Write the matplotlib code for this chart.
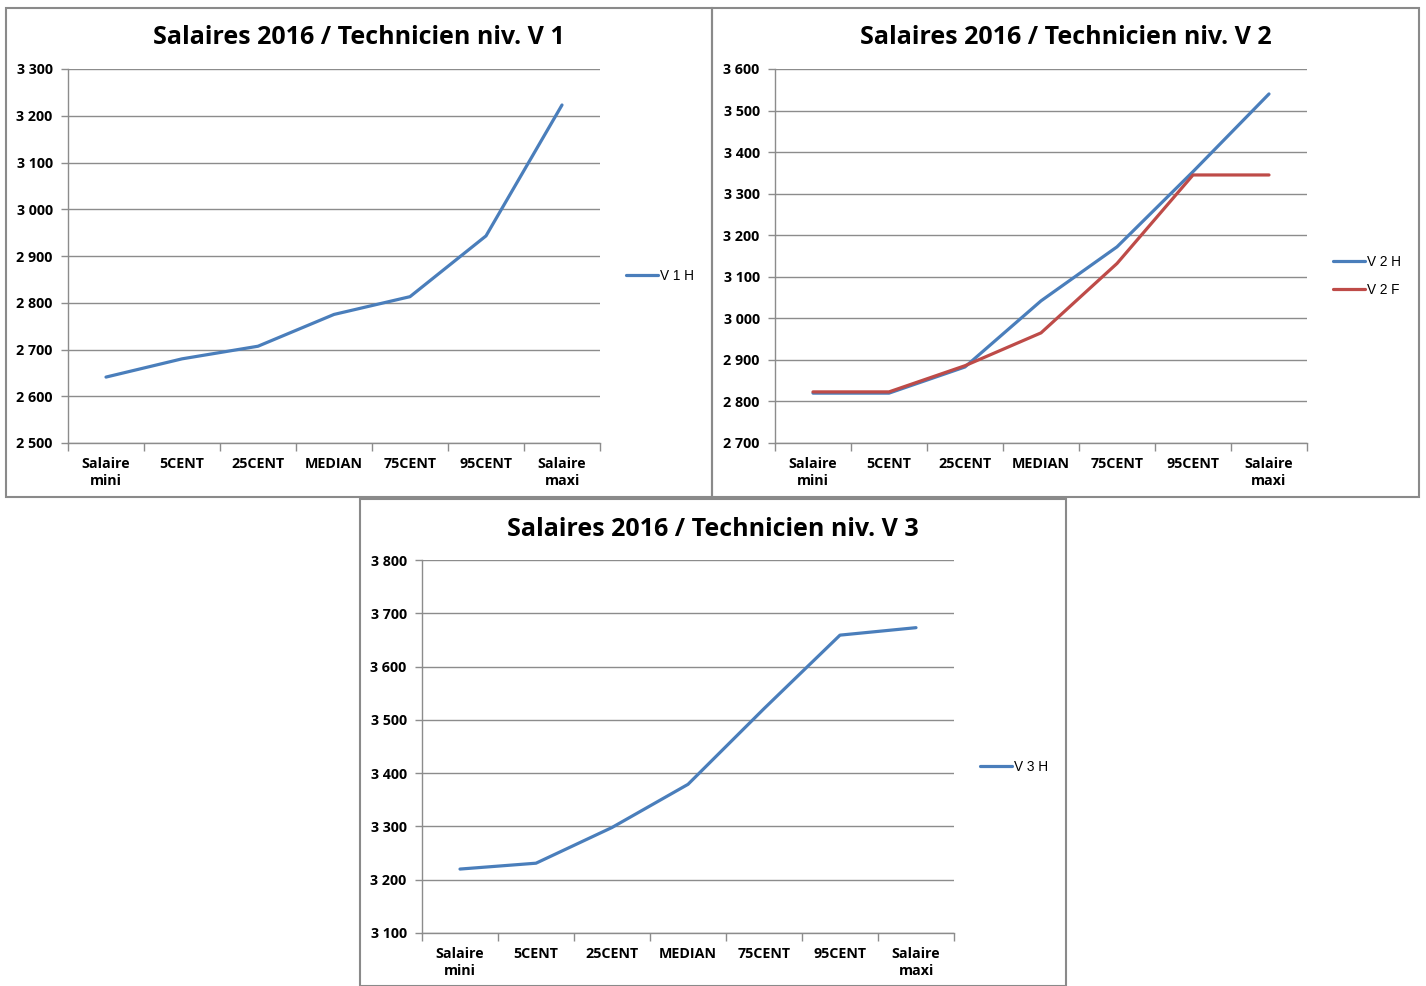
import matplotlib
matplotlib.use("Agg")
import matplotlib.pyplot as plt
from matplotlib.patches import Rectangle
import numpy as np

categories = ["Salaire\nmini", "5CENT", "25CENT", "MEDIAN", "75CENT", "95CENT", "Salaire\nmaxi"]

v1_h = [2641, 2680, 2707, 2775, 2813, 2943, 3223]
v2_h = [2820, 2820, 2883, 3042, 3172, 3353, 3540]
v2_f = [2823, 2823, 2886, 2965, 3132, 3345, 3345]
v3_h = [3220, 3231, 3298, 3379, 3521, 3659, 3673]

titles = ["Salaires 2016 / Technicien niv. V 1",
          "Salaires 2016 / Technicien niv. V 2",
          "Salaires 2016 / Technicien niv. V 3"]

BLUE = "#4A7EBB"
RED = "#BE4B48"
GRID = "#8C8C8C"

W, H = 1426, 986
fig = plt.figure(figsize=(W / 100, H / 100), dpi=100)
fig.patch.set_facecolor("white")

TICKFONT = "Open Sans"
TITLEFONT = "Open Sans"
LEGFONT = "Liberation Sans"


def fx(px):
    return px / W


def fy(py):
    return 1 - py / H


def make_panel(box, axbox, title, title_xy, series, ylim, leg_xy):
    x0, y0, x1, y1 = box
    fig.patches.append(Rectangle((fx(x0), fy(y1)), fx(x1) - fx(x0), fy(y0) - fy(y1),
                                 transform=fig.transFigure, fill=False,
                                 edgecolor="#8A8A8A", linewidth=1.5, zorder=0))
    l, t, r, b = axbox
    ax = fig.add_axes([fx(l), fy(b), fx(r) - fx(l), fy(t) - fy(b)])
    x = np.arange(len(categories))
    for vals, color, label in series:
        ax.plot(x, vals, color=color, linewidth=2.3, label=label, solid_capstyle="round",
                solid_joinstyle="round")
    ax.set_xlim(-0.5, len(categories) - 0.5)
    ax.set_ylim(*ylim)
    yt = np.arange(ylim[0], ylim[1] + 1, 100)
    ax.set_yticks(yt)
    ax.set_yticklabels([f"{int(v)//1000} {int(v)%1000:03d}" for v in yt],
                       fontsize=10.3, fontweight="bold", family=TICKFONT)
    ax.set_xticks(x)
    ax.set_xticklabels(categories, fontsize=10.3, fontweight="bold", family=TICKFONT,
                       linespacing=1.25)
    ax.set_xticks(np.arange(-0.5, len(categories)), minor=True)
    ax.tick_params(axis="x", which="major", length=0, pad=10)
    ax.tick_params(axis="x", which="minor", length=6, color=GRID, width=1)
    ax.tick_params(axis="y", length=5, color=GRID, width=1, pad=6)
    ax.yaxis.grid(True, color=GRID, linewidth=1)
    ax.set_axisbelow(True)
    for s in ["top", "right"]:
        ax.spines[s].set_visible(False)
    for s in ["left", "bottom"]:
        ax.spines[s].set_color(GRID)
        ax.spines[s].set_linewidth(1)
    fig.text(fx(title_xy[0]), fy(title_xy[1]), title, ha="center", va="center",
             fontsize=18, fontweight="bold", family=TITLEFONT)
    ax.legend(loc="center left", bbox_to_anchor=(fx(leg_xy[0]), fy(leg_xy[1])),
              bbox_transform=fig.transFigure, frameon=False,
              handlelength=2.4, handletextpad=0.1, labelspacing=1.05,
              borderpad=0, prop={"family": LEGFONT, "size": 9.8})
    return ax


make_panel((6, 8, 712, 497), (68, 69, 600, 443), titles[0], (359, 38),
           [(v1_h, BLUE, "V 1 H")], (2500, 3300), (619, 276))
make_panel((712, 8, 1419, 497), (775, 69, 1307, 443), titles[1], (1066, 38),
           [(v2_h, BLUE, "V 2 H"), (v2_f, RED, "V 2 F")], (2700, 3600), (1326, 276))
make_panel((360, 499, 1066, 986), (422, 560, 954, 933), titles[2], (713, 529),
           [(v3_h, BLUE, "V 3 H")], (3100, 3800), (973, 767))

fig.savefig("out.png", dpi=100, facecolor="white")
